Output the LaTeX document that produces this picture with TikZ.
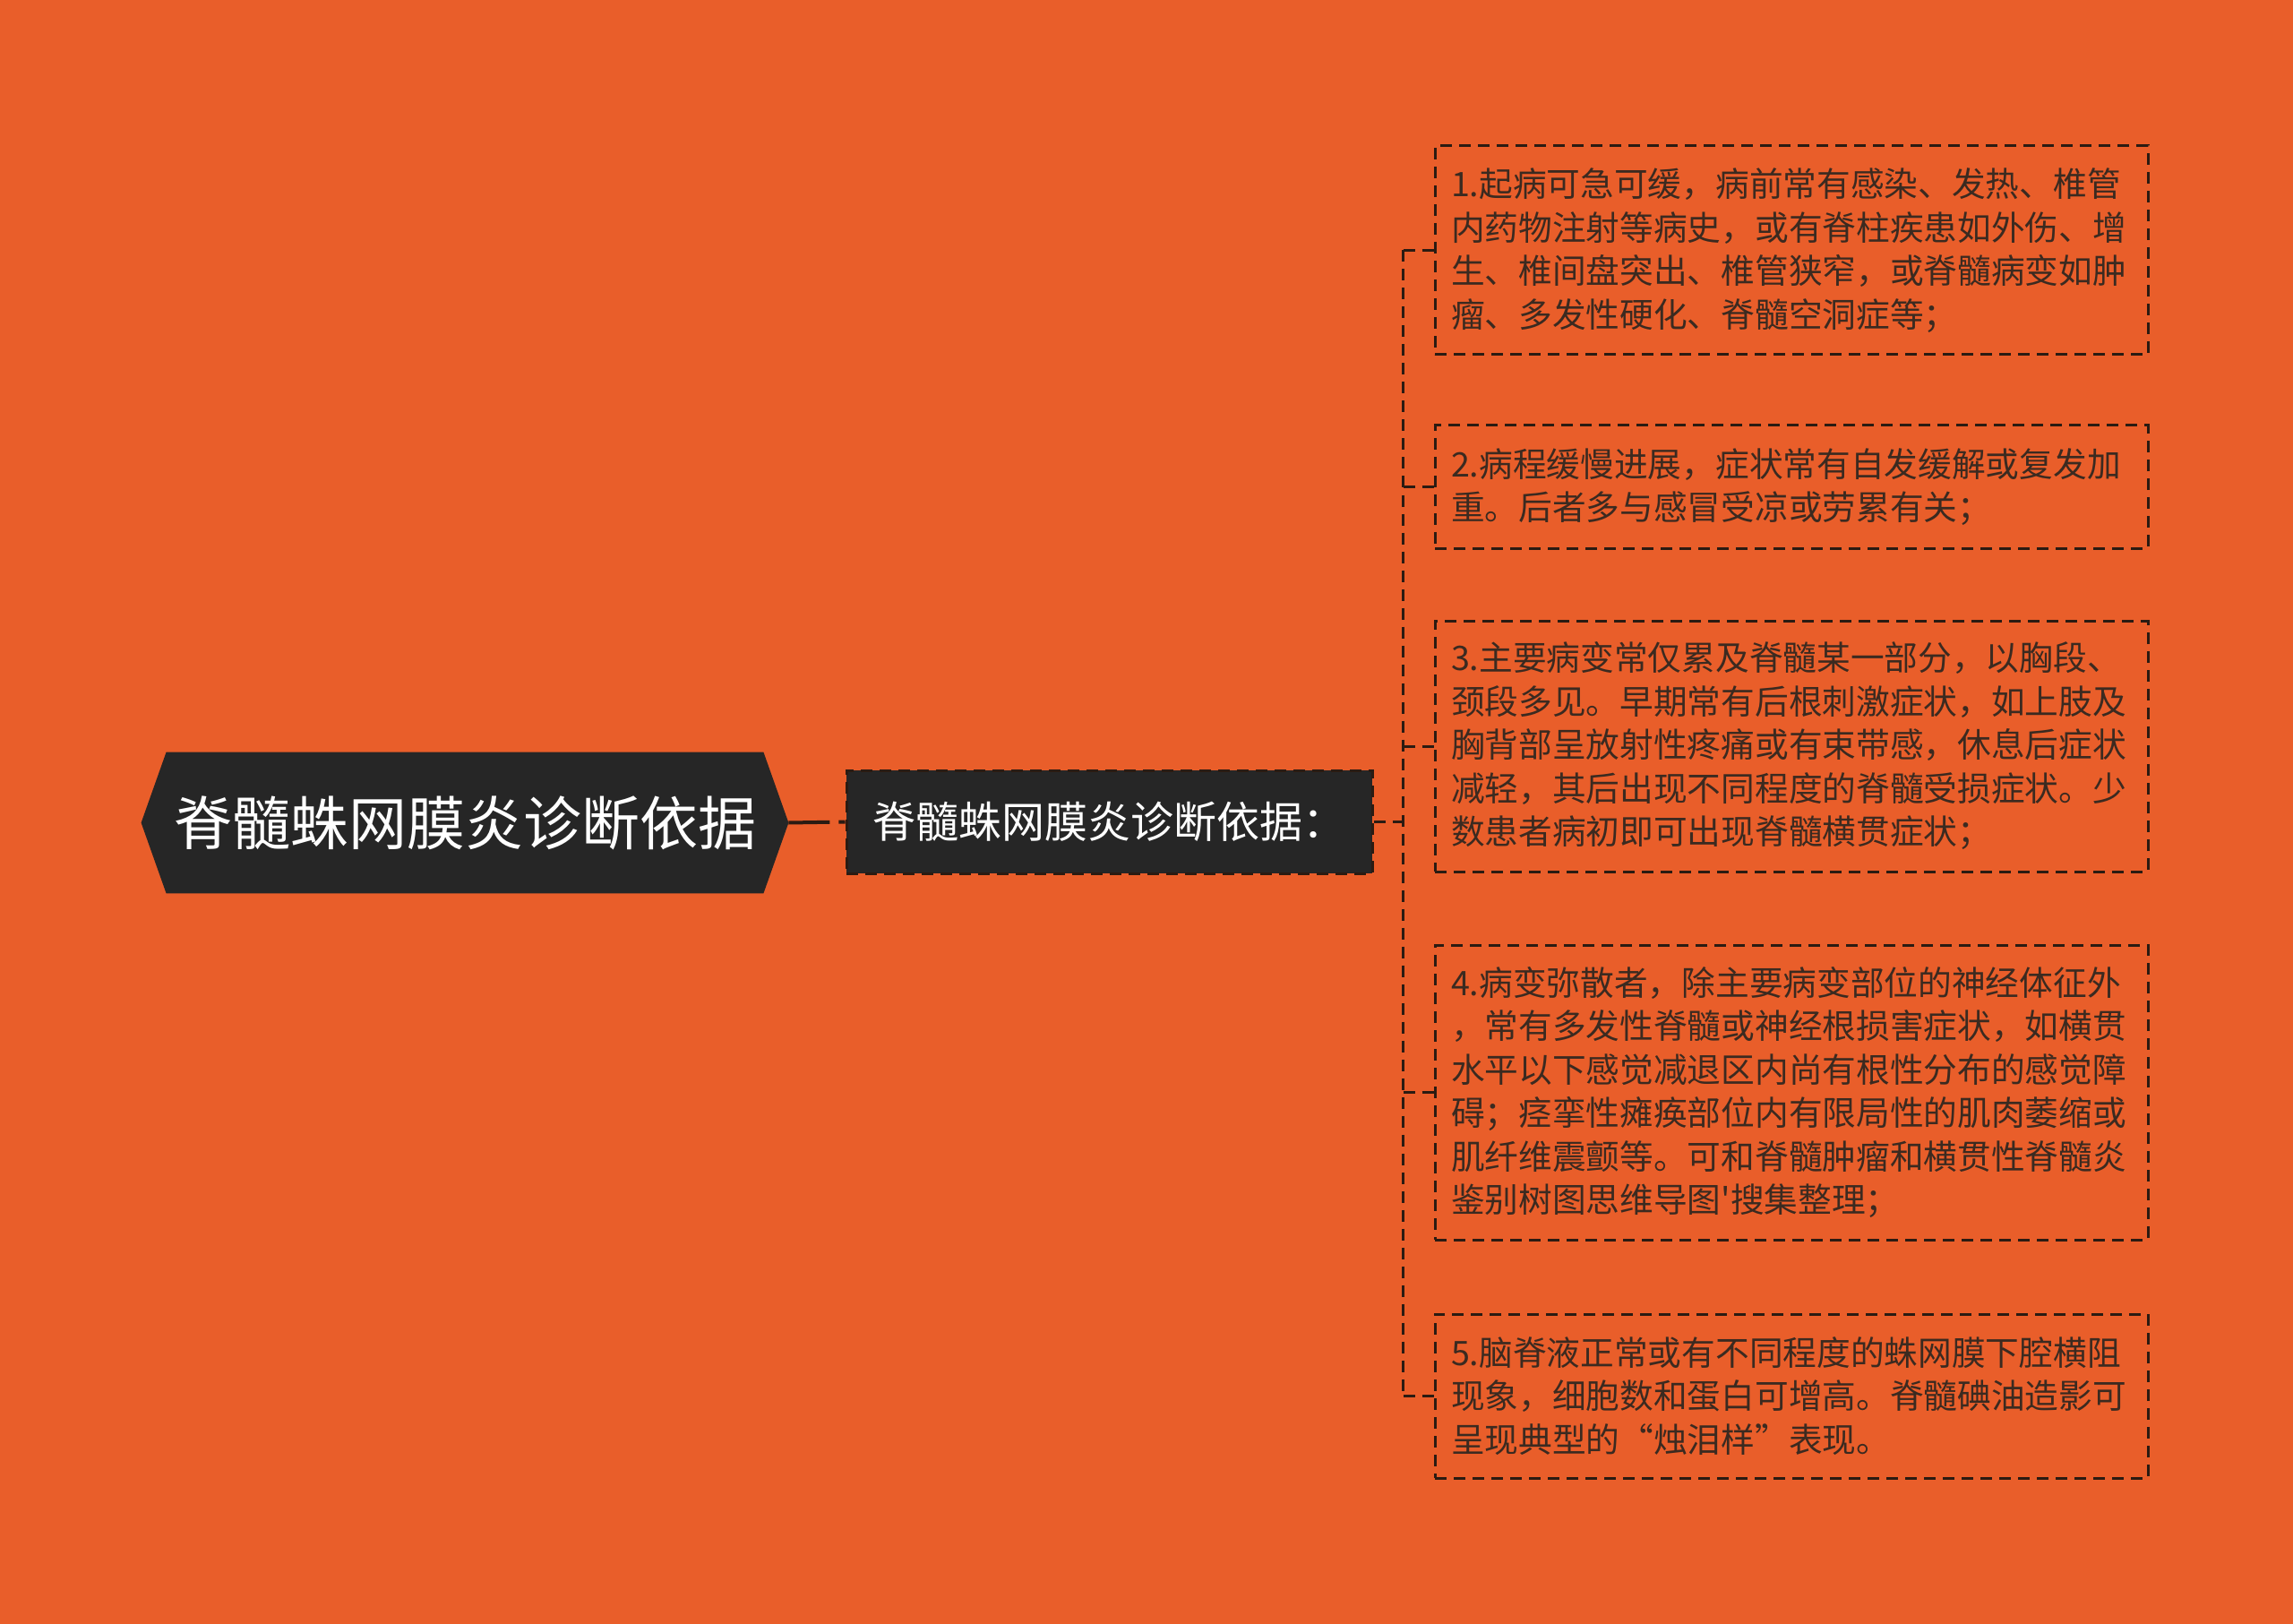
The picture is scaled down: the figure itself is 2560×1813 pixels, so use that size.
\documentclass[tikz,border=0pt]{standalone}
\usepackage{fontspec}
\setmainfont{Noto Sans CJK SC}
\usepackage{tikz}
\usetikzlibrary{positioning}
\usetikzlibrary{backgrounds}
\definecolor{mindorange}{HTML}{E95E2A}
\definecolor{minddark}{HTML}{262626}
\definecolor{mindink}{HTML}{3B2A20}
\definecolor{mindline}{HTML}{2B1B12}
\tikzstyle{mind_root} = [inner sep = 0, minimum width = 333pt, minimum height = 78.5pt, text = white, font = \fontsize{32.5pt}{36pt}\selectfont]
\tikzstyle{mind_topic} = [draw = mindline, fill = minddark, dash pattern = on 6.5pt off 4pt, line width = 1.5pt, inner sep = 0, minimum width = 293.5pt, minimum height = 57.5pt, text = white, font = \fontsize{24pt}{28pt}\selectfont]
\tikzstyle{mind_leaf} = [draw = mindline, dash pattern = on 6.5pt off 4pt, line width = 1.5pt, text width = 380pt, align = left, inner xsep = 9pt, inner ysep = 0, text = mindink, font = \fontsize{18.85pt}{24.25pt}\selectfont]
\tikzstyle{mind_link} = [draw = mindline, dash pattern = on 6.5pt off 4pt, line width = 1.5pt]

\begin{document}
\begin{tikzpicture}[x = 0.5pt, y = -0.5pt]
        \begin{scope} [on background layer]
            \fill [mindorange] (0, 0) rectangle (2560, 1813);
        \end{scope}
        \useasboundingbox (0, 0) rectangle (2560, 1813);

        \node (root) [style = {mind_root}] at (519, 918.5) {脊髓蛛网膜炎诊断依据};
        \node (topic) [style = {mind_topic}] at (1238.5, 917.5) {脊髓蛛网膜炎诊断依据：};

        \node (leaf_1) [style = {mind_leaf}, minimum height = 116.5pt] at (2000, 279.5) {1.起病可急可缓，病前常有感染、发热、椎管\\内药物注射等病史，或有脊柱疾患如外伤、增\\生、椎间盘突出、椎管狭窄，或脊髓病变如肿\\瘤、多发性硬化、脊髓空洞症等；};
        \node (leaf_2) [style = {mind_leaf}, minimum height = 68.5pt] at (2000, 543.5) {2.病程缓慢进展，症状常有自发缓解或复发加\\重。后者多与感冒受凉或劳累有关；};
        \node (leaf_3) [style = {mind_leaf}, minimum height = 140pt] at (2000, 833) {3.主要病变常仅累及脊髓某一部分，以胸段、\\颈段多见。早期常有后根刺激症状，如上肢及\\胸背部呈放射性疼痛或有束带感，休息后症状\\减轻，其后出现不同程度的脊髓受损症状。少\\数患者病初即可出现脊髓横贯症状；};
        \node (leaf_4) [style = {mind_leaf}, minimum height = 164.5pt] at (2000, 1219.5) {4.病变弥散者，除主要病变部位的神经体征外\\，常有多发性脊髓或神经根损害症状，如横贯\\水平以下感觉减退区内尚有根性分布的感觉障\\碍；痉挛性瘫痪部位内有限局性的肌肉萎缩或\\肌纤维震颤等。可和脊髓肿瘤和横贯性脊髓炎\\鉴别树图思维导图\textquotesingle 搜集整理；};
        \node (leaf_5) [style = {mind_leaf}, minimum height = 91.5pt] at (2000, 1558.5) {5.脑脊液正常或有不同程度的蛛网膜下腔横阻\\现象，细胞数和蛋白可增高。脊髓碘油造影可\\呈现典型的“烛泪样”表现。};

        % hexagon behind the root text
        \begin{scope} [on background layer]
            \fill [minddark] (root.north west) -- (root.north east) -- ([xshift = 14pt] root.east) -- (root.south east) -- (root.south west) -- ([xshift = -14pt] root.west) -- cycle;
        \end{scope}

        \coordinate (fork) at ([xshift = 16.5pt] topic.east);
        \draw [style = {mind_link}, line width = 2pt, dash pattern = on 23pt off 5pt] ([xshift = 14pt] root.east) -- (topic.west);
        \draw [style = {mind_link}] (topic.east) -- (fork);
        \draw [style = {mind_link}] (fork |- leaf_1.west) -- (fork |- leaf_5.west);
        \foreach \i in {1, ..., 5}
            \draw [style = {mind_link}] (fork |- leaf_\i.west) -- (leaf_\i.west);
    \end{tikzpicture}
\end{document}
